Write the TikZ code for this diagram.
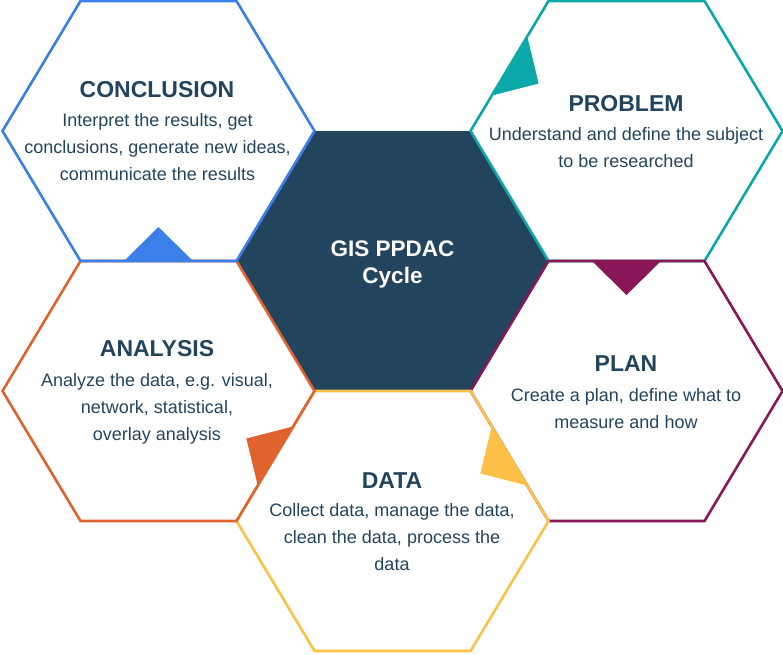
\documentclass[tikz,border=0pt]{standalone}
\usepackage{fontspec}
\setmainfont{Liberation Sans}
\usetikzlibrary{calc}

\definecolor{inkdark}{RGB}{35,68,93}
\definecolor{cellblue}{RGB}{59,127,233}
\definecolor{cellteal}{RGB}{10,168,168}
\definecolor{cellplum}{RGB}{137,22,86}
\definecolor{cellgold}{RGB}{255,192,72}
\definecolor{cellrust}{RGB}{224,99,47}

% Hexagonal cell: name, centre x, centre y, drawing style.
% Corners are named W, NW, NE, E, SE, SW (clockwise on the page).
\newcommand{\hexcell}[4]{%
  \coordinate (#1-c)  at (#2,#3);
  \coordinate (#1-W)  at ($(#1-c)+(-156,0)$);
  \coordinate (#1-NW) at ($(#1-c)+(-78,-130)$);
  \coordinate (#1-NE) at ($(#1-c)+(78,-130)$);
  \coordinate (#1-E)  at ($(#1-c)+(156,0)$);
  \coordinate (#1-SE) at ($(#1-c)+(78,130)$);
  \coordinate (#1-SW) at ($(#1-c)+(-78,130)$);
  \path[#4] (#1-W) -- (#1-NW) -- (#1-NE) -- (#1-E) -- (#1-SE) -- (#1-SW) -- cycle;
}

% Pointer triangle sitting on the edge P->Q of a cell, apex towards its inside.
\newcommand{\pointer}[3]{%
  \fill[#3] ($($(#1)!0.5!(#2)$)!34.5pt!(#1)$)
         -- ($($(#1)!0.5!(#2)$)!34.5pt!(#2)$)
         -- ($($(#1)!0.5!(#2)$)!34pt!-90:(#2)$) -- cycle;
}

\begin{document}
\begin{tikzpicture}[x=1pt,y=-1pt,
  outline/.style={draw=#1,line width=2.6pt},
  title/.style={font=\fontsize{23}{27}\selectfont\bfseries,text=inkdark,inner sep=0pt,anchor=base},
  body/.style={font=\fontsize{18}{27}\selectfont,text=inkdark,inner sep=0pt,anchor=base},
  hubtext/.style={font=\fontsize{22.5}{27}\selectfont\bfseries,text=white,inner sep=0pt,anchor=base}]

\useasboundingbox (0,0) rectangle (783,654);

% centre cell
\hexcell{hub}{392.5}{261}{fill=inkdark}

% surrounding cells
\hexcell{problem}{626.5}{131}{outline=cellteal}
\hexcell{plan}{626.5}{391}{outline=cellplum}
\hexcell{data}{392.5}{521}{outline=cellgold}
\hexcell{analysis}{158.5}{391}{outline=cellrust}
\hexcell{conclusion}{158.5}{131}{outline=cellblue}

% pointers from one stage into the next
\pointer{problem-W}{problem-NW}{cellteal}
\pointer{plan-NW}{plan-NE}{cellplum}
\pointer{data-NE}{data-E}{cellgold}
\pointer{analysis-E}{analysis-SE}{cellrust}
\pointer{conclusion-SE}{conclusion-SW}{cellblue}

% texts
\node[hubtext] (hub-t1) at (392.5,256.7) {GIS PPDAC};
\node[hubtext] (hub-t2) at (392.5,283.3) {Cycle};

\node[title] (conclusion-title) at (157,97.3) {CONCLUSION};
\node[body] (conclusion-text) at (157.5,126.5)
  {\begin{tabular}[t]{@{}c@{}}Interpret the results, get\\conclusions, generate new ideas,\\communicate the results\end{tabular}};

\node[title] (problem-title) at (626,111.7) {PROBLEM};
\node[body] (problem-text) at (626,140)
  {\begin{tabular}[t]{@{}c@{}}Understand and define the subject\\to be researched\end{tabular}};

\node[title] (plan-title) at (626,371.5) {PLAN};
\node[body] (plan-text) at (626,401)
  {\begin{tabular}[t]{@{}c@{}}Create a plan, define what to\\measure and how\end{tabular}};

\node[title] (data-title) at (392,488.3) {DATA};
\node[body] (data-text) at (392,516.7)
  {\begin{tabular}[t]{@{}c@{}}Collect data, manage the data,\\clean the data, process the\\data\end{tabular}};

\node[title] (analysis-title) at (157,356.7) {ANALYSIS};
\node[body] (analysis-text) at (157,386.7)
  {\begin{tabular}[t]{@{}c@{}}Analyze the data, e.g. visual,\\network, statistical,\\overlay analysis\end{tabular}};

\end{tikzpicture}
\end{document}
